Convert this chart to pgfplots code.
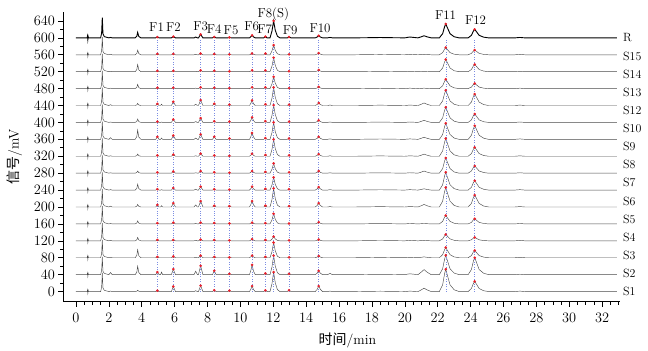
\documentclass[border=0pt]{standalone}
\usepackage{pgfplots}
\pgfplotsset{compat=1.18}
\usepackage{pgfplotstable}
\usepackage{fontspec}
\newfontfamily\cjk{Noto Sans CJK SC}

% trace heights above each baseline (t_k is drawn at baseline 40k mV)
\pgfplotstableread{
x t0 t1 t2 t3 t4 t5 t6 t7 t8 t9 t10 t11 t12 t13 t14 t15
0.00 0 0 0 0 0 0 0 0 0 0 0 0 0 0 0 0
0.68 0 0 0 0 0 0 0 0 0 0 0 0 0 0 0 0
0.70 4 4 4 4 4 4 4 4 4 4 4 4 4 4 4 4
0.72 -4 -4 -4 -4 -4 -4 -4 -4 -4 -4 -4 -4 -4 -4 -4 -4
0.74 3 3 3 3 3 3 3 3 3 3 3 3 3 3 3 3
0.76 0 0 0 0 0 0 0 0 0 0 0 0 0 0 0 0
1.50 0 0 0 0 0 0 0 0 0 0 0 0 0 0 0 0
1.56 11 10 10 10 10 10 10 10 10 10 10 10 10 10 10 12
1.60 44 42 42 42 42 42 42 42 42 42 42 42 42 42 42 48
1.64 9 8 8 8 8 8 8 8 8 8 8 8 8 8 8 10
1.72 3 3 3 3 3 3 3 3 3 3 3 3 3 3 3 3
1.90 1 1 1 1 1 1 1 1 1 1 1 1 1 1 1 1
2.00 0 0 0 0 0 0 0 0 0 0 0 0 0 0 0 0
2.10 1 5 1 1 1 2 1 1 1 4 1 2 1 1 1 1
2.20 0 0 0 0 0 0 0 0 0 0 0 0 0 0 0 0
3.60 0 0 0 0 0 0 0 0 0 0 0 0 0 0 0 0
3.70 0.9 6 5.7 2.4 2.1 1.8 4.2 1.5 1.5 6.6 2.4 1.5 3 5.1 3.3 3.9
3.75 3 20 19 8 7 6 14 5 5 22 8 5 10 17 11 13
3.82 0.75 5 4.75 2 1.75 1.5 3.5 1.25 1.25 5.5 2 1.25 2.5 4.25 2.75 3.25
3.95 0 0 0 0 0 0 0 0 0 0 0 0 0 0 0 0
4.85 0 0 0 0 0 0 0 0 0 0 0 0 0 0 0 0
4.95 2 6 2 2 2 5 2 2 2 6 2 4 2 2 2 2
5.05 0 0 0 0 0 0 0 0 0 0 0 0 0 0 0 0
5.15 0 0 0 0 0 0 0 0 0 0 0 0 0 0 0 0
5.20 0 6 0 0 0 3 1 0 0 3 1 3 0 0 0 0
5.27 0 0 0 0 0 0 0 0 0 0 0 0 0 0 0 0
5.80 0 0 0 0 0 0 0 0 0 0 0 0 0 0 0 0
5.92 12 13 3 2 3 9 5 4 4 9 7 9 2 2 2 3
6.05 0 0 0 0 0 0 0 0 0 0 0 0 0 0 0 0
7.18 0 0 0 0 0 0 0 0 0 0 0 0 0 0 0 0
7.28 2 8 1 1 1 5 2 1 1 3 2 3 1 1 1 2
7.38 0 0 0 0 0 0 0 0 0 0 0 0 0 0 0 0
7.45 0 0 0 0 0 0 0 0 0 0 0 0 0 0 0 0
7.58 14 21 5 3 3 14 8 5 6 12 10 13 3 3 3 8
7.72 0 0 0 0 0 0 0 0 0 0 0 0 0 0 0 0
8.30 0 0 0 0 0 0 0 0 0 0 0 0 0 0 0 0
8.41 3 9 2 2 2 3 2 2 2 6 3 4 2 2 2 2
8.52 0 0 0 0 0 0 0 0 0 0 0 0 0 0 0 0
9.22 0 0 0 0 0 0 0 0 0 0 0 0 0 0 0 0
9.33 2 2 1 1 1 2 1 1 1 2 2 2 1 1 1 1
9.45 0 0 0 0 0 0 0 0 0 0 0 0 0 0 0 0
10.55 0 0 0 0 0 0 0 0 0 0 0 0 0 0 0 0
10.63 5.2 9.2 2 1.6 1.2 5.6 3.2 2 2.4 6 4.8 4.8 1.2 1.2 1.2 2.4
10.71 13 23 5 4 3 14 8 5 6 15 12 12 3 3 3 6
10.80 4.6 8 1.8 1.4 1 4.9 2.8 1.8 2.1 5.3 4.2 4.2 1 1 1 2.1
10.90 0 0 0 0 0 0 0 0 0 0 0 0 0 0 0 0
11.42 0 0 0 0 0 0 0 0 0 0 0 0 0 0 0 0
11.52 3 3 2 2 2 3 3 3 3 3 3 3 3 3 3 3
11.62 0 0 0 0 0 0 0 0 0 0 0 0 0 0 0 0
11.80 0 0 0 0 0 0 0 0 0 0 0 0 0 0 0 0
11.92 18.4 18 14.4 4 9.6 17.6 12 9.2 16 16 16.4 17.2 11.2 13.2 9.2 16
12.02 46 45 36 10 24 44 30 23 40 40 41 43 28 33 23 40
12.12 20.7 20.3 16.2 4.5 10.8 19.8 13.5 10.4 18 18 18.5 19.4 12.6 14.9 10.4 18
12.25 4.6 4.5 3.6 1 2.4 4.4 3 2.3 4 4 4.1 4.3 2.8 3.3 2.3 4
12.40 0 0 0 0 0 0 0 0 0 0 0 0 0 0 0 0
12.85 0 0 0 0 0 0 0 0 0 0 0 0 0 0 0 0
12.96 3 2 1 1 1 2 2 2 2 2 2 2 1 1 1 2
13.08 0 0 0 0 0 0 0 0 0 0 0 0 0 0 0 0
14.55 0 0 0 0 0 0 0 0 0 0 0 0 0 0 0 0
14.67 5.2 3.6 1.6 1.2 1.6 3.6 2.8 2 2 2.4 2 2.4 1.6 1.6 1.6 2
14.76 13 9 4 3 4 9 7 5 5 6 5 6 4 4 4 5
14.86 5.2 3.6 1.6 1.2 1.6 3.6 2.8 2 2 2.4 2 2.4 1.6 1.6 1.6 2
15.00 0 0 0 0 0 0 0 0 0 0 0 0 0 0 0 0
15.30 0 0 0 0 0 0 0 0 0 0 0 0 0 0 0 0
15.45 1 3 0 0 0 1 1 1 1 1 1 1 0 0 0 1
15.60 0 0 0 0 0 0 0 0 0 0 0 0 0 0 0 0
17.00 0 0 0 0 0 0 0 0 0 0 0 0 0 0 0 0
18.50 0.8 0.8 0.8 0.8 0.8 0.8 0.8 0.8 0.8 0.8 0.8 0.8 0.8 0.8 0.8 0.8
20.00 0 0 0 0 0 0 0 0 0 0 0 0 0 0 0 0
20.30 1 2 1 1 1 1 1 1 1 1 1 1 1 1 1 2
20.80 0 0 0 0 0 0 0 0 0 0 0 0 0 0 0 0
21.00 4 6 1 0.5 0.5 3 1.5 2.5 2.5 2.5 2.5 3 0.5 0.5 0.5 2.5
21.17 8 12 2 1 1 6 3 5 5 5 5 6 1 1 1 5
21.35 4 6 1 0.5 0.5 3 1.5 2.5 2.5 2.5 2.5 3 0.5 0.5 0.5 2.5
21.60 0 0 0 0 0 0 0 0 0 0 0 0 0 0 0 0
22.10 0 0 0 0 0 0 0 0 0 0 0 0 0 0 0 0
22.30 15.9 13.8 7.2 4.5 6 13.8 12.6 10.8 12.6 11.4 10.8 10.8 6.6 8.7 5.1 9.9
22.42 42.4 36.8 19.2 12 16 36.8 33.6 28.8 33.6 30.4 28.8 28.8 17.6 23.2 13.6 26.4
22.49 53 46 24 15 20 46 42 36 42 38 36 36 22 29 17 33
22.58 39.8 34.5 18 11.3 15 34.5 31.5 27 31.5 28.5 27 27 16.5 21.8 12.8 24.8
22.75 15.9 13.8 7.2 4.5 6 13.8 12.6 10.8 12.6 11.4 10.8 10.8 6.6 8.7 5.1 9.9
23.00 4.2 3.7 1.9 1.2 1.6 3.7 3.4 2.9 3.4 3 2.9 2.9 1.8 2.3 1.4 2.6
23.30 0 0 0 0 0 0 0 0 0 0 0 0 0 0 0 0
23.85 0 0 0 0 0 0 0 0 0 0 0 0 0 0 0 0
24.05 7.2 12 5.1 2.4 3.6 8.4 6.6 5.1 6.3 9.6 6 8.1 3.6 5.1 3.3 6
24.17 19.2 32 13.6 6.4 9.6 22.4 17.6 13.6 16.8 25.6 16 21.6 9.6 13.6 8.8 16
24.25 24 40 17 8 12 28 22 17 21 32 20 27 12 17 11 20
24.35 18 30 12.8 6 9 21 16.5 12.8 15.8 24 15 20.3 9 12.8 8.3 15
24.52 7.2 12 5.1 2.4 3.6 8.4 6.6 5.1 6.3 9.6 6 8.1 3.6 5.1 3.3 6
24.80 1.9 3.2 1.4 0.6 1 2.2 1.8 1.4 1.7 2.6 1.6 2.2 1 1.4 0.9 1.6
25.10 0 0 0 0 0 0 0 0 0 0 0 0 0 0 0 0
26.70 0 0 0 0 0 0 0 0 0 0 0 0 0 0 0 0
27.00 1 1 1 1 1 1 1 1 1 1 1 1 1 1 1 1
27.30 0 0 0 0 0 0 0 0 0 0 0 0 0 0 0 0
32.90 0 0 0 0 0 0 0 0 0 0 0 0 0 0 0 0
}\trace

% marked peaks F1..F12
\pgfplotstableread{
x t0 t1 t2 t3 t4 t5 t6 t7 t8 t9 t10 t11 t12 t13 t14 t15
4.95 2 6 2 2 2 5 2 2 2 6 2 4 2 2 2 2
5.92 12 13 3 2 3 9 5 4 4 9 7 9 2 2 2 3
7.58 14 21 5 3 3 14 8 5 6 12 10 13 3 3 3 8
8.41 3 9 2 2 2 3 2 2 2 6 3 4 2 2 2 2
9.33 2 2 1 1 1 2 1 1 1 2 2 2 1 1 1 1
10.71 13 23 5 4 3 14 8 5 6 15 12 12 3 3 3 6
11.52 3 3 2 2 2 3 3 3 3 3 3 3 3 3 3 3
12.02 46 45 36 10 24 44 30 23 40 40 41 43 28 33 23 40
12.96 3 2 1 1 1 2 2 2 2 2 2 2 1 1 1 2
14.76 13 9 4 3 4 9 7 5 5 6 5 6 4 4 4 5
22.49 53 46 24 15 20 46 42 36 42 38 36 36 22 29 17 33
24.25 24 40 17 8 12 28 22 17 21 32 20 27 12 17 11 20
}\peaks

\definecolor{tracegray}{HTML}{4A4A4A}
\definecolor{dotblue}{HTML}{7C8DE2}
\definecolor{peakred}{HTML}{E8202A}

\begin{document}
\begin{tikzpicture}
\begin{axis}[
  at={(0,0)}, anchor=south west,
  scale only axis, width=556.7bp, height=289.2bp,
  xmin=-0.76, xmax=33.1, ymin=-24, ymax=660,
  axis x line=bottom, axis y line=left,
  axis line style={-, line width=0.8pt, black},
  tick align=outside,
  major tick length=5bp, minor tick length=3bp,
  tick style={black, line width=0.6pt},
  xtick={0,2,...,32}, minor xtick={0,0.5,...,33},
  ytick={0,40,...,640}, minor ytick={20,60,...,620},
  ticklabel style={font=\fontsize{14}{16}\selectfont},
  xticklabel style={yshift=-3bp},
  xlabel={{\cjk 时间}/min},
  ylabel={{\cjk 信号}/mV},
  label style={font=\fontsize{14}{16}\selectfont},
  xlabel style={at={(axis description cs:0.51,-0.133)}, anchor=center},
  ylabel style={at={(axis description cs:-0.088,0.5)}, anchor=center},
  clip=false,
]
\pgfplotsinvokeforeach{0,...,14}{
  \addplot[tracegray, line width=0.45pt] table[x=x, y expr=\thisrow{t#1}+40*#1]{\trace};
}
\addplot[black, line width=0.9pt] table[x=x, y expr=\thisrow{t15}+600]{\trace};

\pgfplotsinvokeforeach{4.95,5.92,7.58,8.41,9.33,10.71,11.52,12.02,12.96,14.76,22.49,24.25}{
  \addplot[draw=dotblue, dotted, line width=0.45pt] coordinates {(#1,0) (#1,600)};
}
\pgfplotsinvokeforeach{0,...,15}{
  \addplot[only marks, mark=*, mark size=1.1bp, color=peakred] table[x=x, y expr=\thisrow{t#1}+40*#1]{\peaks};
}

\begin{scope}[every node/.style={font=\fontsize{13}{15}\selectfont, anchor=base, inner sep=0pt}]
\node at (axis cs:4.9,614) {F1};
\node at (axis cs:5.92,616) {F2};
\node at (axis cs:7.58,618) {F3};
\node at (axis cs:8.4,611) {F4};
\node at (axis cs:9.43,609) {F5};
\node at (axis cs:10.68,617) {F6};
\node at (axis cs:11.47,611) {F7};
\node at (axis cs:12.0,648) {F8(S)};
\node at (axis cs:13.02,609) {F9};
\node at (axis cs:14.84,612) {F10};
\node at (axis cs:22.48,643) {F11};
\node at (axis cs:24.3,631) {F12};
\end{scope}

\begin{scope}[every node/.style={font=\fontsize{12}{14}\selectfont, anchor=west, inner sep=0pt}]
\node at (axis cs:33.27,0) {S1};
\node at (axis cs:33.27,42.86) {S2};
\node at (axis cs:33.27,85.71) {S3};
\node at (axis cs:33.27,128.57) {S4};
\node at (axis cs:33.27,171.43) {S5};
\node at (axis cs:33.27,214.29) {S6};
\node at (axis cs:33.27,257.14) {S7};
\node at (axis cs:33.27,300) {S8};
\node at (axis cs:33.27,342.86) {S9};
\node at (axis cs:33.27,385.71) {S10};
\node at (axis cs:33.27,428.57) {S12};
\node at (axis cs:33.27,471.43) {S13};
\node at (axis cs:33.27,514.29) {S14};
\node at (axis cs:33.27,557.14) {S15};
\node at (axis cs:33.27,600) {R};
\end{scope}
\end{axis}
\pgfresetboundingbox
\path (-63.5bp,-49.3bp) rectangle (584.5bp,301.7bp);
\end{tikzpicture}
\end{document}
